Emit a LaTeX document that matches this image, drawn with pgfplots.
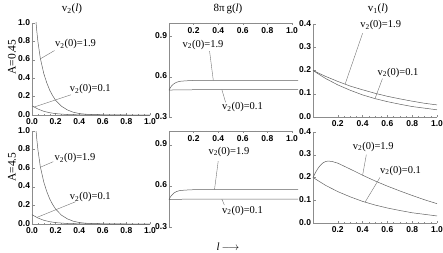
\documentclass[border=0pt]{standalone}
\usepackage{fontspec}
\setmainfont{Liberation Serif}
\setsansfont{Liberation Sans}
\usepackage{pgfplots}
\pgfplotsset{compat=1.18}

\pgfplotstableread{
x y
0 1.9
0.01 1.55
0.02 1.28
0.03 1.07
0.04 0.92
0.05 0.80
0.07 0.62
0.10 0.45
0.125 0.35
0.15 0.27
0.175 0.21
0.20 0.16
0.25 0.095
0.30 0.055
0.35 0.03
0.40 0.016
0.45 0.009
0.50 0.005
0.60 0.002
0.70 0.001
0.80 0.0
1.00 0.0
}\vtwoHigh
\pgfplotstableread{
x y
0 0.10
0.05 0.065
0.10 0.04
0.15 0.025
0.20 0.015
0.30 0.005
0.40 0.002
0.60 0.0
1.00 0.0
}\vtwoLow
\pgfplotstableread{
x y
0 0.50
0.01 0.517
0.02 0.53
0.04 0.548
0.06 0.558
0.08 0.564
0.10 0.567
0.15 0.570
0.20 0.572
0.30 0.573
0.60 0.573
1.05 0.573
}\gHigh
\pgfplotstableread{
x y
0 0.50
0.05 0.502
0.20 0.503
1.05 0.503
}\gLow
\pgfplotstableread{
x y
0 0.200
0.1 0.175
0.2 0.153
0.3 0.133
0.4 0.117
0.5 0.102
0.6 0.089
0.7 0.078
0.8 0.068
0.9 0.059
1.0 0.052
}\voneHighA
\pgfplotstableread{
x y
0 0.200
0.1 0.166
0.2 0.138
0.3 0.115
0.4 0.095
0.5 0.079
0.6 0.066
0.7 0.055
0.8 0.045
0.9 0.038
1.0 0.031
}\voneLow
\pgfplotstableread{
x y
0 0.200
0.02 0.222
0.04 0.240
0.06 0.254
0.08 0.264
0.10 0.270
0.12 0.272
0.15 0.271
0.20 0.263
0.25 0.250
0.30 0.237
0.40 0.210
0.50 0.185
0.60 0.162
0.70 0.141
0.80 0.121
0.90 0.102
1.00 0.085
}\voneHighB

\pgfplotsset{
  panel/.style={
    scale only axis,
    anchor=south west,
    axis line style={black!45, line width=0.5pt},
    tick style={black!45, line width=0.4pt},
    tick align=inside,
    major tick length=2.5pt,
    minor tick length=1.4pt,
    tick label style={font=\sffamily\bfseries\fontsize{8.5}{9}\selectfont,
      /pgf/number format/assume math mode=true,
      /pgf/number format/fixed,
      /pgf/number format/fixed zerofill,
      /pgf/number format/precision=1},
    xticklabel style={inner sep=0.5pt, yshift=-2.5pt},
    yticklabel style={inner sep=0.3pt, xshift=-1.5pt, yshift=0.8pt},
  },
  leftp/.style={panel, width=118pt, xmin=0, xmax=1, ymin=0, ymax=1,
    axis lines*=left, xtick={0,0.2,0.4,0.6,0.8,1}, ytick={0,0.2,0.4,0.6,0.8,1},
    minor tick num=3},
  midp/.style={panel, width=123pt, xmin=0, xmax=1, ymin=0.3, ymax=1,
    axis x line*=top, axis y line*=left, clip=false,
    xtick={0.2,0.4,0.6,0.8,1}, ytick={0.3,0.6,0.9}, minor y tick num=5, minor x tick num=3,
    xticklabel style={anchor=north, yshift=-1.5pt}},
  rightp/.style={panel, width=124pt, xmin=0, xmax=1, ymin=0, ymax=0.4,
    axis lines*=left, clip=false,
    xtick={0.2,0.4,0.6,0.8,1}, ytick={0,0.1,0.2,0.3,0.4}, minor y tick num=4, minor x tick num=3},
  crv/.style={draw=black!62, line width=0.5pt, no marks},
  ptr/.style={draw=black!55, line width=0.4pt, no marks},
}
\tikzset{lab/.style={anchor=west, inner sep=0pt, font=\fontsize{10.5}{12}\selectfont}}
\newcommand{\vlab}[1]{v\textsubscript{2}(0)=#1}

\begin{document}
\begin{tikzpicture}
\path[use as bounding box] (0,0) rectangle (443pt,252pt);

% ---------- top row ----------
\begin{axis}[leftp, at={(32pt,137pt)}, height=92pt]
\addplot[crv] table {\vtwoHigh};
\addplot[crv] table {\vtwoLow};
\addplot[ptr] coordinates {(0.07,0.61) (0.19,0.70)};
\addplot[ptr] coordinates {(0.015,0.085) (0.33,0.22)};
\node[lab] at (axis cs:0.195,0.77) {\vlab{1.9}};
\node[lab] at (axis cs:0.32,0.28) {\vlab{0.1}};
\end{axis}

\begin{axis}[midp, at={(169pt,135pt)}, height=94pt]
\addplot[crv] table {\gHigh};
\addplot[crv] table {\gLow};
\addplot[ptr] coordinates {(0.33,0.79) (0.36,0.573)};
\addplot[ptr] coordinates {(0.43,0.503) (0.46,0.41)};
\node[lab] at (axis cs:0.11,0.84) {\vlab{1.9}};
\node[lab] at (axis cs:0.43,0.375) {\vlab{0.1}};
\end{axis}

\begin{axis}[rightp, at={(313pt,135pt)}, height=93pt]
\addplot[crv] table {\voneHighA};
\addplot[crv] table {\voneLow};
\addplot[ptr] coordinates {(0.26,0.143) (0.4,0.36)};
\addplot[ptr] coordinates {(0.5,0.079) (0.56,0.165)};
\node[lab] at (axis cs:0.38,0.395) {\vlab{1.9}};
\node[lab] at (axis cs:0.52,0.19) {\vlab{0.1}};
\end{axis}

% ---------- bottom row ----------
\begin{axis}[leftp, at={(32pt,28pt)}, height=93pt]
\addplot[crv] table {\vtwoHigh};
\addplot[crv] table {\vtwoLow};
\addplot[ptr] coordinates {(0.07,0.61) (0.18,0.67)};
\addplot[ptr] coordinates {(0.04,0.07) (0.37,0.24)};
\node[lab] at (axis cs:0.19,0.71) {\vlab{1.9}};
\node[lab] at (axis cs:0.32,0.29) {\vlab{0.1}};
\end{axis}

\begin{axis}[midp, at={(169pt,25pt)}, height=96pt]
\addplot[crv] table {\gHigh};
\addplot[crv] table {\gLow};
\addplot[ptr] coordinates {(0.40,0.78) (0.37,0.573)};
\addplot[ptr] coordinates {(0.43,0.503) (0.45,0.46)};
\node[lab] at (axis cs:0.32,0.85) {\vlab{1.9}};
\node[lab] at (axis cs:0.43,0.42) {\vlab{0.1}};
\end{axis}

\begin{axis}[rightp, at={(313pt,29pt)}, height=91pt]
\addplot[crv] table {\voneHighB};
\addplot[crv] table {\voneLow};
\addplot[ptr] coordinates {(0.4,0.21) (0.43,0.30)};
\addplot[ptr] coordinates {(0.42,0.092) (0.54,0.20)};
\node[lab] at (axis cs:0.32,0.335) {\vlab{1.9}};
\node[lab] at (axis cs:0.54,0.23) {\vlab{0.1}};
\end{axis}

% ---------- titles ----------
\node[font=\fontsize{11}{12}\selectfont] at (72pt,243pt) {v\textsubscript{2}(\textit{l})};
\node[font=\fontsize{11}{12}\selectfont] at (228pt,243pt) {8π\,g(\textit{l})};
\node[font=\fontsize{11}{12}\selectfont] at (378pt,243pt) {v\textsubscript{1}(\textit{l})};
\node[font=\fontsize{11.5}{12}\selectfont, rotate=90] at (12pt,195pt) {A=0.45};
\node[font=\fontsize{11.5}{12}\selectfont, rotate=90] at (12pt,85pt) {A=4.5};
\node[font=\fontsize{11}{12}\selectfont] at (228pt,5pt) {\textit{l}\,$\longrightarrow$};
\end{tikzpicture}
\end{document}
